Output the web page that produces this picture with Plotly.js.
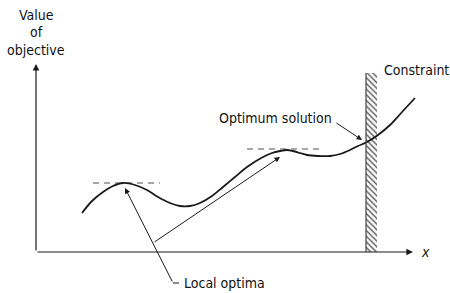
<!DOCTYPE html>
<html><head><meta charset="utf-8">
<script src="https://cdn.plot.ly/plotly-3.0.1.min.js"></script>
<style>html,body{margin:0;padding:0;background:#fff}#chart{width:450px;height:293px}</style>
</head><body><div id="chart"></div>
<script>
// Objective curve (x along decision axis, y = value of objective)
const curveX = [46,56,67,77,87,99,111,122,134,144,154,164,176,187,199,211,227,236,244,251,257,264,271,282,294,304,314,322,331,342,354,366,379];
const curveY = [39,51,60,66,69,67,62,55,49,46,46,49,56,65,75,85,95,99,101,102,101,99,97,96,96,98,102,106,110,117,127,140,154];
// Local optimum levels (dashed)
const localOptX1 = [57,124], localOptY1 = [69,69];
const localOptX2 = [211,284], localOptY2 = [103,103];
// Constraint position and height
const constraintX = [335.5];
const constraintH = [179];
const constraintW = 11;
// Labels
const labels = {
  yTitle: ["Value","of","objective"],
  xTitle: "x",
  constraint: "Constraint",
  optimum: "Optimum solution",
  local: "Local optima"
};

const FONT = '"DejaVu Sans Condensed","Liberation Sans Narrow","Arial Narrow","Liberation Sans",Arial,sans-serif';
const ink = '#111';

const traces = [
  {type:'bar', x:constraintX, y:constraintH, base:0, width:constraintW,
   marker:{color:'#ffffff', line:{width:0},
     pattern:{shape:'\\', fgcolor:'#555', bgcolor:'#fff', size:4, solidity:0.35}},
   hoverinfo:'skip'},
  {type:'scatter', mode:'lines', x:localOptX1, y:localOptY1,
   line:{color:'#8a8a8a', width:1.3, dash:'6px,5px'}, hoverinfo:'skip'},
  {type:'scatter', mode:'lines', x:localOptX2, y:localOptY2,
   line:{color:'#8a8a8a', width:1.3, dash:'6px,5px'}, hoverinfo:'skip'},
  {type:'scatter', mode:'lines', x:curveX, y:curveY,
   line:{color:'#1a1a1a', width:1.8, shape:'spline', smoothing:1}, hoverinfo:'skip'}
];

function arrow(hx,hy,tx,ty,w){
  return {x:hx,y:hy,ax:tx,ay:ty,xref:'x',yref:'y',axref:'x',ayref:'y',
    text:'',showarrow:true,arrowhead:2,arrowsize:1.1,arrowwidth:w||1,arrowcolor:'#1a1a1a'};
}
function txt(x,y,t,xa,extra){
  return Object.assign({x:x,y:y,xref:'x',yref:'y',text:t,showarrow:false,xanchor:xa||'center',yanchor:'middle',
    font:{family:FONT,size:14,color:ink}},extra||{});
}

const annotations = [
  arrow(0,188,0,0,1.2),        // y axis
  arrow(377,0,0,0,1.2),        // x axis
  arrow(89,64,137,-31,1),      // local optimum 1
  arrow(244,95,117,9,1),       // local optimum 2
  arrow(326,112,299,130,1),    // optimum solution
  txt(0,237,labels.yTitle[0]),
  txt(0,220,labels.yTitle[1]),
  txt(0,202,labels.yTitle[2]),
  txt(389,0,labels.xTitle,'center',{font:{family:FONT,size:14,color:ink,style:'italic'}}),
  txt(346,182,labels.constraint,'left'),
  txt(298,134,labels.optimum,'right'),
  txt(146,-31,labels.local,'left')
];

const shapes = [
  {type:'line',xref:'x',yref:'y',x0:137,y0:-31,x1:143,y1:-31,line:{color:'#1a1a1a',width:1}},
  {type:'line',xref:'x',yref:'y',x0:330,y0:0,x1:330,y1:179,line:{color:'#444',width:1.2}}
];

const layout = {
  width:450,height:293,margin:{l:0,r:0,t:0,b:0},
  paper_bgcolor:'#fff',plot_bgcolor:'#fff',showlegend:false,
  xaxis:{range:[-36,414],visible:false,fixedrange:true},
  yaxis:{range:[-41,252],visible:false,fixedrange:true},
  annotations:annotations,shapes:shapes,bargap:0
};
Plotly.newPlot('chart',traces,layout,{staticPlot:true,displayModeBar:false});
</script></body></html>
